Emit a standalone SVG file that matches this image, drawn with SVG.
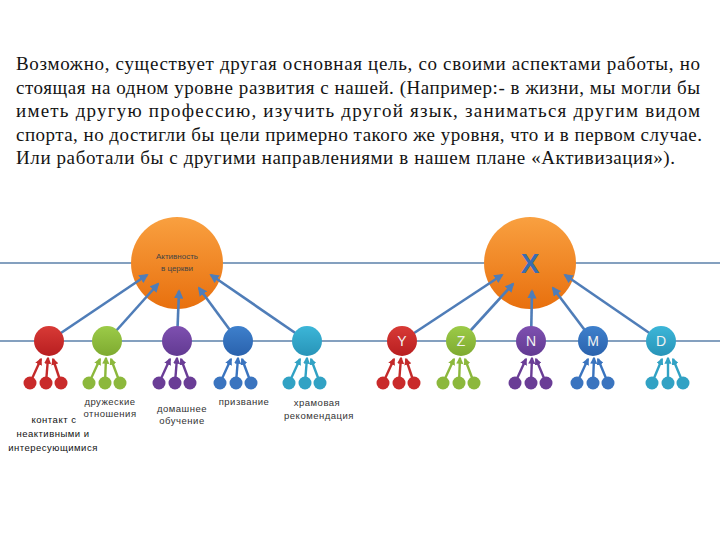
<svg xmlns="http://www.w3.org/2000/svg" width="720" height="540" viewBox="0 0 720 540">
<defs>
<style>
.para{font-family:"Liberation Serif","DejaVu Serif",serif;font-size:19px;fill:#141414}
.hl{stroke:#5b80aa;stroke-width:1.3;fill:none}
.main{stroke:#4f7db8;stroke-width:2.6;fill:none;marker-end:url(#ab)}
.lbl{font-family:"Liberation Sans","DejaVu Sans",sans-serif;font-size:9.5px;fill:#333;text-anchor:middle;letter-spacing:0.5px}
.let{font-family:"Liberation Sans","DejaVu Sans",sans-serif;font-size:14px;fill:#f2f2f2;text-anchor:middle}
.lr{stroke:#c42a2a;stroke-width:2.4;fill:none;marker-end:url(#ar)}
.lg{stroke:#8cb83c;stroke-width:2.4;fill:none;marker-end:url(#ag)}
.lp{stroke:#6a3d96;stroke-width:2.4;fill:none;marker-end:url(#ap)}
.lb{stroke:#3a74bf;stroke-width:2.4;fill:none;marker-end:url(#abl)}
.lt{stroke:#31a2c4;stroke-width:2.4;fill:none;marker-end:url(#at)}
</style>
<linearGradient id="gOr" x1="0" y1="0" x2="0" y2="1"><stop offset="0" stop-color="#f9a040"/><stop offset="1" stop-color="#e8700e"/></linearGradient>
<linearGradient id="gR" x1="0" y1="0" x2="0" y2="1"><stop offset="0" stop-color="#d83a36"/><stop offset="1" stop-color="#b81e20"/></linearGradient>
<linearGradient id="gG" x1="0" y1="0" x2="0" y2="1"><stop offset="0" stop-color="#9ccb48"/><stop offset="1" stop-color="#7eaa30"/></linearGradient>
<linearGradient id="gP" x1="0" y1="0" x2="0" y2="1"><stop offset="0" stop-color="#7e50b0"/><stop offset="1" stop-color="#623a92"/></linearGradient>
<linearGradient id="gB" x1="0" y1="0" x2="0" y2="1"><stop offset="0" stop-color="#3e80cc"/><stop offset="1" stop-color="#2a62ad"/></linearGradient>
<linearGradient id="gT" x1="0" y1="0" x2="0" y2="1"><stop offset="0" stop-color="#3cb6d8"/><stop offset="1" stop-color="#2894b8"/></linearGradient>
<marker id="ab" viewBox="0 0 10 10" refX="8" refY="5" markerWidth="3.6" markerHeight="3.6" orient="auto"><path d="M0,0 L10,5 L0,10 z" fill="#4f7db8"/></marker>
<marker id="ar" viewBox="0 0 10 10" refX="8" refY="5" markerWidth="3" markerHeight="3" orient="auto"><path d="M0,0 L10,5 L0,10 z" fill="#c42a2a"/></marker>
<marker id="ag" viewBox="0 0 10 10" refX="8" refY="5" markerWidth="3" markerHeight="3" orient="auto"><path d="M0,0 L10,5 L0,10 z" fill="#8cb83c"/></marker>
<marker id="ap" viewBox="0 0 10 10" refX="8" refY="5" markerWidth="3" markerHeight="3" orient="auto"><path d="M0,0 L10,5 L0,10 z" fill="#6a3d96"/></marker>
<marker id="abl" viewBox="0 0 10 10" refX="8" refY="5" markerWidth="3" markerHeight="3" orient="auto"><path d="M0,0 L10,5 L0,10 z" fill="#3a74bf"/></marker>
<marker id="at" viewBox="0 0 10 10" refX="8" refY="5" markerWidth="3" markerHeight="3" orient="auto"><path d="M0,0 L10,5 L0,10 z" fill="#31a2c4"/></marker>
</defs>
<rect width="720" height="540" fill="#ffffff"/>

<g id="paragraph">
<text class="para" x="16" y="70" textLength="684" lengthAdjust="spacing">Возможно, существует другая основная цель, со своими аспектами работы, но</text>
<text class="para" x="16" y="93.5" textLength="684" lengthAdjust="spacing">стоящая на одном уровне развития с нашей. (Например:- в жизни, мы могли бы</text>
<text class="para" x="16" y="117" textLength="684" lengthAdjust="spacing">иметь другую профессию, изучить другой язык, заниматься другим видом</text>
<text class="para" x="16" y="140.5" textLength="686" lengthAdjust="spacing">спорта, но достигли бы цели примерно такого же уровня, что и в первом случае.</text>
<text class="para" x="16" y="164" textLength="659" lengthAdjust="spacing">Или работали бы с другими направлениями в нашем плане «Активизация»).</text>
</g>

<g id="baselines">
<line class="hl" x1="0" y1="263" x2="720" y2="263"/>
<line class="hl" x1="0" y1="341" x2="720" y2="341"/>
</g>

<g id="goal-church">
<circle cx="177" cy="263" r="46" fill="url(#gOr)"/>
<text class="lbl" x="177" y="259" style="font-size:8px;fill:#444;letter-spacing:0">Активность</text>
<text class="lbl" x="177" y="271" style="font-size:8px;fill:#444;letter-spacing:0">в церкви</text>
</g>
<g id="goal-x">
<circle cx="530" cy="263" r="46" fill="url(#gOr)"/>
<text x="530" y="273" text-anchor="middle" style="font-family:'Liberation Sans','DejaVu Sans',sans-serif;font-size:28px;font-weight:bold;fill:#3a6db0">X</text>
</g>

<g id="connectors">
<line class="main" x1="49" y1="341" x2="147" y2="275"/>
<line class="main" x1="107" y1="341" x2="158" y2="284"/>
<line class="main" x1="177" y1="341" x2="179" y2="291"/>
<line class="main" x1="238" y1="341" x2="199" y2="288"/>
<line class="main" x1="307" y1="341" x2="211" y2="275"/>
<line class="main" x1="402" y1="341" x2="502" y2="275"/>
<line class="main" x1="461" y1="341" x2="513" y2="284"/>
<line class="main" x1="531" y1="341" x2="532" y2="291"/>
<line class="main" x1="593" y1="341" x2="553" y2="288"/>
<line class="main" x1="661" y1="341" x2="565" y2="275"/>

<line class="lr" x1="30" y1="383" x2="41" y2="359"/><line class="lr" x1="46" y1="383" x2="48" y2="358"/><line class="lr" x1="61" y1="383" x2="53" y2="359"/>
<line class="lg" x1="89" y1="383" x2="100" y2="359"/><line class="lg" x1="105" y1="383" x2="106" y2="358"/><line class="lg" x1="120" y1="383" x2="111" y2="359"/>
<line class="lp" x1="159" y1="383" x2="170" y2="359"/><line class="lp" x1="175" y1="383" x2="177" y2="358"/><line class="lp" x1="190" y1="383" x2="181" y2="359"/>
<line class="lb" x1="220" y1="383" x2="231" y2="359"/><line class="lb" x1="236" y1="383" x2="238" y2="358"/><line class="lb" x1="251" y1="383" x2="242" y2="359"/>
<line class="lt" x1="289" y1="383" x2="300" y2="359"/><line class="lt" x1="305" y1="383" x2="307" y2="358"/><line class="lt" x1="320" y1="383" x2="311" y2="359"/>
<line class="lr" x1="383" y1="383" x2="394" y2="359"/><line class="lr" x1="399" y1="383" x2="401" y2="358"/><line class="lr" x1="414" y1="383" x2="406" y2="359"/>
<line class="lg" x1="443" y1="383" x2="454" y2="359"/><line class="lg" x1="459" y1="383" x2="460" y2="358"/><line class="lg" x1="474" y1="383" x2="465" y2="359"/>
<line class="lp" x1="515" y1="383" x2="526" y2="359"/><line class="lp" x1="531" y1="383" x2="532" y2="358"/><line class="lp" x1="546" y1="383" x2="536" y2="359"/>
<line class="lb" x1="577" y1="383" x2="588" y2="359"/><line class="lb" x1="593" y1="383" x2="594" y2="358"/><line class="lb" x1="608" y1="383" x2="598" y2="359"/>
<line class="lt" x1="652" y1="383" x2="662" y2="359"/><line class="lt" x1="668" y1="383" x2="668" y2="358"/><line class="lt" x1="683" y1="383" x2="673" y2="359"/>
</g>

<g id="n-red"><circle cx="49" cy="341" r="15" fill="url(#gR)"/><circle cx="30" cy="383" r="6.5" fill="#c92a2a"/><circle cx="46" cy="383" r="6.5" fill="#c92a2a"/><circle cx="61" cy="383" r="6.5" fill="#c92a2a"/></g>
<g id="n-green"><circle cx="107" cy="341" r="15" fill="url(#gG)"/><circle cx="89" cy="383" r="6.5" fill="#8cb83c"/><circle cx="105" cy="383" r="6.5" fill="#8cb83c"/><circle cx="120" cy="383" r="6.5" fill="#8cb83c"/></g>
<g id="n-purple"><circle cx="177" cy="341" r="15" fill="url(#gP)"/><circle cx="159" cy="383" r="6.5" fill="#6a3d96"/><circle cx="175" cy="383" r="6.5" fill="#6a3d96"/><circle cx="190" cy="383" r="6.5" fill="#6a3d96"/></g>
<g id="n-blue"><circle cx="238" cy="341" r="15" fill="url(#gB)"/><circle cx="220" cy="383" r="6.5" fill="#3a74bf"/><circle cx="236" cy="383" r="6.5" fill="#3a74bf"/><circle cx="251" cy="383" r="6.5" fill="#3a74bf"/></g>
<g id="n-teal"><circle cx="307" cy="341" r="15" fill="url(#gT)"/><circle cx="289" cy="383" r="6.5" fill="#31a2c4"/><circle cx="305" cy="383" r="6.5" fill="#31a2c4"/><circle cx="320" cy="383" r="6.5" fill="#31a2c4"/></g>

<g id="n-Y"><circle cx="402" cy="341" r="15" fill="url(#gR)"/><text class="let" x="402" y="346">Y</text><circle cx="383" cy="383" r="6.5" fill="#c92a2a"/><circle cx="399" cy="383" r="6.5" fill="#c92a2a"/><circle cx="414" cy="383" r="6.5" fill="#c92a2a"/></g>
<g id="n-Z"><circle cx="461" cy="341" r="15" fill="url(#gG)"/><text class="let" x="461" y="346">Z</text><circle cx="443" cy="383" r="6.5" fill="#8cb83c"/><circle cx="459" cy="383" r="6.5" fill="#8cb83c"/><circle cx="474" cy="383" r="6.5" fill="#8cb83c"/></g>
<g id="n-N"><circle cx="531" cy="341" r="15" fill="url(#gP)"/><text class="let" x="531" y="346">N</text><circle cx="515" cy="383" r="6.5" fill="#6a3d96"/><circle cx="531" cy="383" r="6.5" fill="#6a3d96"/><circle cx="546" cy="383" r="6.5" fill="#6a3d96"/></g>
<g id="n-M"><circle cx="593" cy="341" r="15" fill="url(#gB)"/><text class="let" x="593" y="346">M</text><circle cx="577" cy="383" r="6.5" fill="#3a74bf"/><circle cx="593" cy="383" r="6.5" fill="#3a74bf"/><circle cx="608" cy="383" r="6.5" fill="#3a74bf"/></g>
<g id="n-D"><circle cx="661" cy="341" r="15" fill="url(#gT)"/><text class="let" x="661" y="346">D</text><circle cx="652" cy="383" r="6.5" fill="#31a2c4"/><circle cx="668" cy="383" r="6.5" fill="#31a2c4"/><circle cx="683" cy="383" r="6.5" fill="#31a2c4"/></g>

<g id="labels">
<text class="lbl" x="110" y="405">дружеские</text>
<text class="lbl" x="110" y="417">отношения</text>
<text class="lbl" x="54" y="423" style="fill:#111">контакт с</text>
<text class="lbl" x="53" y="437" style="fill:#111">неактивными и</text>
<text class="lbl" x="53" y="451" style="fill:#111">интересующимися</text>
<text class="lbl" x="182" y="412">домашнее</text>
<text class="lbl" x="182" y="424">обучение</text>
<text class="lbl" x="244" y="405">призвание</text>
<text class="lbl" x="317" y="406">храмовая</text>
<text class="lbl" x="319" y="419">рекомендация</text>
</g>
</svg>
